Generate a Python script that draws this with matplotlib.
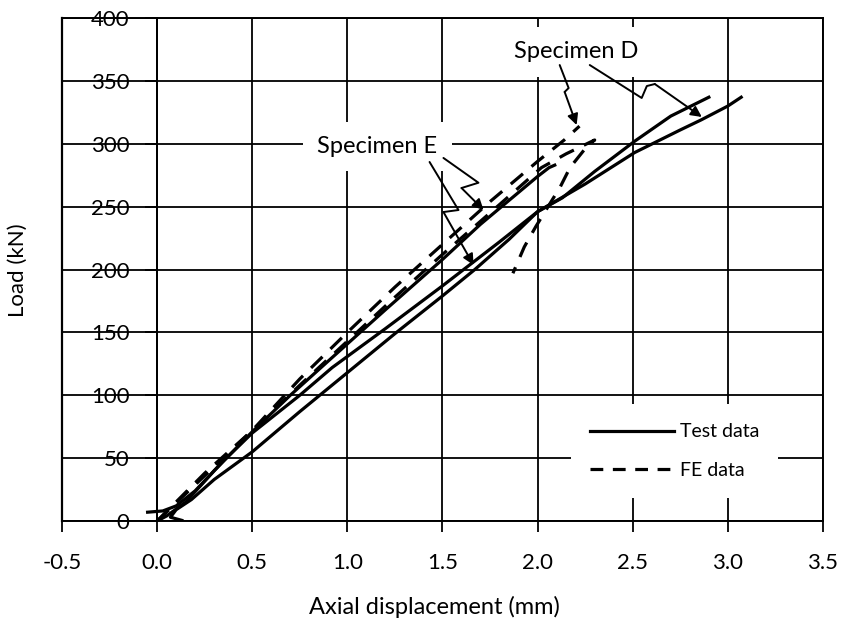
import matplotlib
matplotlib.use('Agg')
import matplotlib.pyplot as plt
from matplotlib.lines import Line2D

plt.rcParams['font.family'] = ['Lato', 'DejaVu Sans']

# ---- data ----
x_ticks = [-0.5, 0.0, 0.5, 1.0, 1.5, 2.0, 2.5, 3.0, 3.5]
x_tick_labels = ['-0.5', '0.0', '0.5', '1.0', '1.5', '2.0', '2.5', '3.0', '3.5']
y_ticks = [0, 50, 100, 150, 200, 250, 300, 350, 400]
y_tick_labels = ['0', '50', '100', '150', '200', '250', '300', '350', '400']

# Specimen D, test data (two recorded curves)
test_d1_x = [0.13, 0.07, 0.10, 0.18, 0.30, 0.50, 0.75, 1.00, 1.25, 1.50, 1.67, 1.85, 2.00,
             2.25, 2.51, 2.75, 2.86, 3.00, 3.07]
test_d1_y = [0.5, 3, 9, 17, 33, 55, 87, 118, 149, 179, 200, 224, 246,
             268, 293, 311, 319, 330, 337]
test_d2_x = [-0.05, 0.03, 0.10, 0.20, 0.35, 0.50, 0.75, 0.92, 1.20, 1.50, 1.80, 2.00,
             2.13, 2.30, 2.51, 2.70, 2.90]
test_d2_y = [7, 8, 12, 24, 48, 70, 100, 122, 153, 187, 222, 246,
             257, 278, 302, 322, 337]
# Specimen E, test data
test_e_x = [0.00, 0.05, 0.15, 0.30, 0.50, 0.70, 0.92, 1.20, 1.50, 1.70, 1.85, 2.00, 2.06, 2.09]
test_e_y = [0, 4, 15, 40, 71, 100, 130, 168, 208, 236, 255, 274, 281, 283]
# Specimen D, FE data
fe_d_x = [0.0, 0.25, 0.50, 0.75, 1.00, 1.25, 1.50, 1.75, 2.00, 2.14, 2.22]
fe_d_y = [0, 38, 72, 113, 150, 186, 220, 254, 286, 303, 314]
# Specimen E, FE data (with snap-back)
fe_e_x = [0.0, 0.25, 0.50, 0.75, 1.00, 1.25, 1.50, 1.75, 2.02, 2.15, 2.30,
          2.26, 2.17, 2.12, 1.99, 1.93, 1.87]
fe_e_y = [0, 36, 72, 108, 143, 178, 212, 245, 281, 292, 303,
          298, 281, 266, 234, 218, 197]

# ---- figure ----
fig = plt.figure(figsize=(8.45, 6.24), dpi=100)
ax = fig.add_axes([62/845, 103/624, 761/845, 503/624])
ax.set_xlim(-0.5, 3.5)
ax.set_ylim(0, 400)
ax.set_xticks(x_ticks)
ax.set_xticklabels(x_tick_labels)
ax.set_yticks(y_ticks)
ax.set_yticklabels(y_tick_labels)
ax.grid(True, color='black', lw=1.3)
ax.set_axisbelow(True)
ax.spines['left'].set_position(('data', 0))
for s in ax.spines.values():
    s.set_linewidth(1.4)
ax.axvline(-0.5, color='black', lw=1.6, clip_on=False, zorder=1)
ax.tick_params(axis='x', direction='out', length=8, width=1.3, pad=15, labelsize=16)
ax.tick_params(axis='y', direction='out', length=9, width=1.3, pad=11, labelsize=16)

lw = 2.3
dash = (0, (5, 3.5))
ax.plot(test_d1_x, test_d1_y, color='black', lw=lw, zorder=3)
ax.plot(test_d2_x, test_d2_y, color='black', lw=lw, zorder=3)
ax.plot(test_e_x, test_e_y, color='black', lw=lw, zorder=3)
ax.plot(fe_d_x, fe_d_y, color='black', lw=lw, ls=dash, zorder=3)
ax.plot(fe_e_x, fe_e_y, color='black', lw=lw, ls=dash, zorder=3)

ax.set_xlabel('Axial displacement (mm)', fontsize=17)
ax.set_ylabel('Load (kN)', fontsize=16)
ax.xaxis.set_label_coords(0.490, -0.148)
ax.yaxis.set_label_coords(-0.045, 0.499)

# annotations
bbox = dict(boxstyle='square,pad=0.6', fc='white', ec='none')
ax.text(1.158, 298, 'Specimen E', fontsize=17, ha='center', va='center', bbox=bbox, zorder=4)
ax.text(2.205, 373, 'Specimen D', fontsize=17, ha='center', va='center', bbox=bbox, zorder=4)

arrows = [
    [(1.505, 288.7), (1.689, 269.0), (1.600, 264.8), (1.716, 247.3)],
    [(1.432, 285.5), (1.584, 247.3), (1.505, 245.7), (1.663, 203.6)],
    [(2.116, 362.6), (2.163, 344.3), (2.142, 341.2), (2.205, 314.9)],
    [(2.274, 362.6), (2.547, 336.4), (2.574, 345.9), (2.616, 347.5), (2.863, 321.3)],
]
for pts in arrows:
    xs = [p[0] for p in pts[:-1]]
    ys = [p[1] for p in pts[:-1]]
    ax.plot(xs, ys, color='black', lw=1.4, zorder=5, solid_capstyle='round')
    ax.annotate('', xy=pts[-1], xytext=pts[-2],
                arrowprops=dict(arrowstyle='-|>', lw=1.4, color='black',
                                mutation_scale=16, shrinkA=0, shrinkB=0), zorder=5)

handles = [Line2D([], [], color='black', lw=lw),
           Line2D([], [], color='black', lw=lw, ls=(0, (4, 3)))]
leg = ax.legend(handles, ['Test data', 'FE data'], loc='center',
                bbox_to_anchor=(0.805, 0.139), frameon=True, facecolor='white',
                edgecolor='none', framealpha=1, fontsize=14, handlelength=4.3,
                handletextpad=0.3, borderpad=1.0, labelspacing=1.1, fancybox=False)
leg.set_zorder(6)

fig.savefig('out.png', dpi=100)
